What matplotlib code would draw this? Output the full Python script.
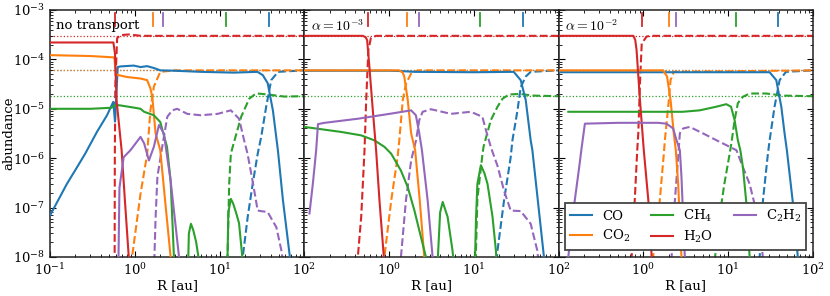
import matplotlib
matplotlib.use("Agg")
import matplotlib.pyplot as plt
from matplotlib.ticker import LogLocator, NullFormatter

plt.rcParams['font.family'] = ['DejaVu Serif']
plt.rcParams['mathtext.fontset'] = 'dejavuserif'
plt.rcParams['font.size'] = 9.5

species = ['CO', 'CO2', 'CH4', 'H2O', 'C2H2']
labels = ['CO', 'CO$_2$', 'CH$_4$', 'H$_2$O', 'C$_2$H$_2$']
colors = ['C0', 'C1', 'C2', 'C3', 'C4']
panel_titles = ['no transport', r'$\alpha=10^{-3}$', r'$\alpha=10^{-2}$']

# total (initial) abundances, dotted lines
totals = {'CO': 6e-5, 'CO2': 6e-5, 'CH4': 1.8e-5, 'H2O': 3e-4}

# snowline markers at the top [au]
nt_snow = [38, 1.65, 12.0, 0.59, 2.17]
a3_snow = [38, 1.63, 11.9, 0.56, 2.24]
a2_snow = [39, 2.01, 12.2, 0.95, 2.45]

# ---- no transport: (R [au], abundance) ----
nt_co_gas = ([0.1, 0.158, 0.209, 0.26, 0.358, 0.471, 0.558, 0.585, 0.63, 0.675, 0.97, 1.17, 1.4, 1.68, 2.0, 2.9, 6.0, 14.8, 28, 32.4, 37, 42.6, 48.8, 56, 67.6, 72],
             [6.9e-8, 3.0e-7, 6.6e-7, 1.23e-6, 3.4e-6, 7.4e-6, 1.38e-5, 5.5e-6, 7e-5, 7.2e-5, 7.5e-5, 7.0e-5, 7.3e-5, 6.7e-5, 6.0e-5, 5.9e-5, 5.6e-5, 5.4e-5, 5.6e-5, 4.8e-5, 3.3e-5, 9.3e-6, 1.45e-6, 1.4e-7, 1e-8, 4e-9])
nt_co_ice = ([18.0, 18.8, 21.5, 24.6, 28.2, 31, 35.5, 40.7, 49, 100],
             [4e-9, 1e-8, 6.5e-8, 3e-7, 1.23e-6, 2.7e-6, 1.1e-5, 3.8e-5, 5.6e-5, 6e-5])
nt_co2_gas = ([0.1, 0.3, 0.56, 0.575, 0.6, 0.645, 0.81, 1.17, 1.4, 1.53, 1.61, 1.76, 2.0, 2.28, 2.65, 2.8],
              [1.22e-4, 1.17e-4, 1.1e-4, 1.08e-4, 5e-5, 4.8e-5, 4.4e-5, 4.1e-5, 3.8e-5, 2.6e-5, 1.75e-5, 3.2e-6, 1.45e-6, 1.4e-7, 1e-8, 4e-9])
nt_co2_ice = ([0.88, 0.93, 1.17, 1.4, 1.53, 1.68, 2.0, 3.0, 100],
              [4e-9, 1e-8, 1.9e-7, 1.2e-6, 9.3e-6, 2.8e-5, 5.6e-5, 6e-5, 6e-5])
nt_ch4_gas = ([0.1, 0.3, 0.53, 0.6, 0.675, 1.0, 1.17, 1.29, 1.68, 2.0, 2.4, 2.65, 2.9, 3.0],
              [1.0e-5, 1.0e-5, 1.05e-5, 1.2e-5, 1.17e-5, 1.05e-5, 1.0e-5, 8.7e-6, 7.4e-6, 5.4e-6, 1.7e-6, 3.5e-7, 1e-8, 4e-9])
nt_ch4_bump1 = ([4.27, 4.35, 4.6, 4.9, 5.3, 5.75],
                [8e-9, 3e-8, 4.7e-8, 3.5e-8, 2e-8, 8e-9])
nt_ch4_bump2 = ([12.4, 12.7, 13.6, 14.5, 16, 17, 18.8],
                [8e-9, 8e-8, 1.5e-7, 1.2e-7, 7e-8, 4.8e-8, 8e-9])
nt_ch4_ice = ([12.4, 13.0, 13.6, 14.3, 18, 22.4, 27, 37, 58, 100],
              [8e-9, 3e-7, 1.23e-6, 1.7e-6, 6.9e-6, 1.6e-5, 2.05e-5, 1.95e-5, 1.77e-5, 1.8e-5])
nt_h2o_gas = ([0.1, 0.56, 0.585, 0.61, 0.70, 0.77, 0.85, 0.9],
              [2.2e-4, 2.2e-4, 1.3e-4, 1.5e-5, 1.45e-6, 1.2e-7, 1e-8, 2e-9])
nt_h2o_ice = ([0.578, 0.582, 0.59, 0.62, 0.68, 0.85, 1.2, 100],
              [1e-9, 1e-6, 3e-5, 2.7e-4, 3.1e-4, 3.2e-4, 3e-4, 3e-4])
nt_c2h2_gas = ([0.64, 0.66, 0.74, 0.89, 1.17, 1.29, 1.47, 1.68, 1.93, 2.2, 2.65, 3.33, 3.45],
               [5e-9, 2.5e-7, 1.05e-6, 1.45e-6, 2.7e-6, 2e-6, 9e-7, 1.7e-6, 4.7e-6, 3.2e-6, 3.5e-7, 1e-8, 4e-9])
nt_c2h2_ice = ([1.70, 1.76, 1.85, 2.11, 2.42, 2.77, 3.16, 4.17, 6.0, 9.5, 13.6, 17, 19.5, 21.4, 24.5, 28.2, 37, 46.8, 53.7, 57.5],
               [8e-9, 6e-8, 4.2e-7, 1.7e-6, 6.9e-6, 9.3e-6, 1.0e-5, 7.9e-6, 7.4e-6, 7.9e-6, 9.3e-6, 6.3e-6, 2.3e-6, 1.23e-6, 3.5e-7, 8.7e-8, 8.1e-8, 4e-8, 1.35e-8, 6e-9])

# ---- alpha = 1e-3 ----
a3_co_gas = ([0.1, 1.0, 1.38, 2.0, 10, 29.5, 35.7, 40.9, 46.8, 49, 67.1, 72],
             [5.9e-5, 5.9e-5, 5.8e-5, 5.6e-5, 5.5e-5, 5.6e-5, 3.8e-5, 1.5e-5, 2.3e-6, 1.45e-6, 1e-8, 4e-9])
a3_co_ice = ([18.5, 19, 22.7, 27.2, 28.5, 32.7, 35.7, 40.9, 46.8, 100],
             [8e-9, 1.35e-8, 1.4e-7, 1.05e-6, 2.3e-6, 9.3e-6, 2.75e-5, 4.5e-5, 5.6e-5, 6e-5])
a3_co2_gas = ([0.1, 1.32, 1.45, 1.51, 1.66, 1.82, 2.03, 2.3, 2.6, 2.7],
              [6e-5, 6e-5, 5.4e-5, 4.5e-5, 1.5e-5, 3.2e-6, 1.45e-6, 1.4e-7, 1e-8, 4e-9])
a3_co2_ice = ([0.85, 0.88, 1.06, 1.26, 1.32, 1.45, 1.58, 1.82, 2.18, 100],
              [4e-9, 1e-8, 1.4e-7, 1.05e-6, 2.3e-6, 1.5e-5, 3.2e-5, 5.2e-5, 6e-5, 6e-5])
a3_ch4_gas = ([0.1, 0.272, 0.468, 0.67, 0.88, 1.06, 1.38, 1.66, 1.99, 2.38, 2.72, 2.85],
              [4.3e-6, 3.4e-6, 2.9e-6, 2.3e-6, 1.7e-6, 1.23e-6, 5.6e-7, 2.6e-7, 8.7e-8, 2.5e-8, 1e-8, 5e-9])
a3_ch4_bump1 = ([3.74, 4.0, 4.29, 4.9, 5.6, 5.77],
                [8e-9, 8e-8, 1.3e-7, 6.5e-8, 1.35e-8, 8e-9])
a3_ch4_bump2 = ([10.3, 10.6, 11.0, 12.1, 13.3, 14.5, 16.6, 18.2, 18.6],
                [8e-9, 6e-8, 3e-7, 7.2e-7, 5e-7, 3e-7, 6.5e-8, 1.35e-8, 7e-9])
a3_ch4_ice = ([10.5, 11.0, 12.65, 13.0, 15.85, 19.0, 21.8, 26.0, 35, 50, 100],
              [8e-9, 1.5e-7, 1.23e-6, 1.7e-6, 5.9e-6, 1.1e-5, 1.6e-5, 1.95e-5, 2.0e-5, 1.85e-5, 1.8e-5])
a3_h2o_gas = ([0.1, 0.49, 0.53, 0.551, 0.586, 0.643, 0.703, 0.77, 0.867, 0.9],
              [3e-4, 3e-4, 2.8e-4, 2.45e-4, 7e-5, 9.3e-6, 1.45e-6, 1.4e-7, 1e-8, 4e-9])
a3_h2o_ice = ([0.42, 0.428, 0.469, 0.513, 0.537, 0.57, 0.61, 0.7, 100],
              [4e-9, 1e-8, 6.5e-8, 1.45e-6, 1.5e-5, 1.55e-4, 2.7e-4, 3e-4, 3e-4])
a3_c2h2_gas = ([0.115, 0.126, 0.138, 0.145, 0.173, 0.43, 1.06, 1.82, 2.07, 2.27, 2.44, 2.85, 3.26, 3.4],
               [7.6e-8, 3e-7, 1.45e-6, 4.9e-6, 5.2e-6, 6.3e-6, 8e-6, 9.3e-6, 7.4e-6, 3.2e-6, 1.45e-6, 1.4e-7, 1e-8, 4e-9])
a3_c2h2_ice = ([1.38, 1.58, 1.82, 2.08, 2.27, 2.49, 3.12, 5.36, 9.2, 12.6, 14.0, 16.0, 19.0, 22.7, 27.2, 35.7, 46.8, 56, 59],
               [1e-8, 1.4e-7, 9e-7, 2.3e-6, 5.9e-6, 8.7e-6, 9.8e-6, 7.9e-6, 8.7e-6, 6.9e-6, 3.5e-6, 1.6e-6, 7e-7, 2.2e-7, 8.7e-8, 8.5e-8, 4.7e-8, 1.35e-8, 6e-9])

# ---- alpha = 1e-2 ----
a2_co_gas = ([0.1, 30.8, 36.9, 42.3, 46.2, 49.2, 60.5, 66.2, 70],
             [5.5e-5, 5.5e-5, 3.8e-5, 1.1e-5, 3.2e-6, 1.45e-6, 6.5e-8, 1e-8, 4e-9])
a2_co_ice = ([23.0, 23.5, 25.7, 29.4, 30.8, 35.2, 40.4, 48, 100],
             [5e-9, 1e-8, 1.4e-7, 1.23e-6, 2.3e-6, 1.1e-5, 3.8e-5, 5.6e-5, 6e-5])
a2_co2_gas = ([0.1, 1.71, 1.9, 2.09, 2.28, 2.41, 2.57, 2.81, 2.9],
              [6e-5, 6e-5, 4.5e-5, 1.5e-5, 3.2e-6, 1.45e-6, 3e-7, 1e-8, 4e-9])
a2_co2_ice = ([1.28, 1.3, 1.56, 1.74, 1.79, 1.96, 2.09, 2.28, 100],
              [5e-9, 1e-8, 1.4e-7, 1.23e-6, 2.3e-6, 1.1e-5, 3.8e-5, 5.6e-5, 6e-5])
a2_ch4_gas = ([0.13, 2.9, 4.6, 7.2, 9.5, 10.8, 11.9, 13.0, 13.9, 14.9, 16.4, 17.9, 18.5],
              [8.7e-6, 8.7e-6, 9.3e-6, 1.1e-5, 1.24e-5, 1.1e-5, 5.9e-6, 2.3e-6, 1.45e-6, 6.6e-7, 1.2e-7, 1e-8, 4e-9])
a2_ch4_ice = ([6.8, 7.0, 7.9, 9.0, 10.4, 10.9, 11.9, 13.0, 14.9, 17.9, 28, 45, 100],
              [5e-9, 1e-8, 6.5e-8, 3e-7, 1.23e-6, 2e-6, 5.9e-6, 1.3e-5, 1.75e-5, 2.04e-5, 2.04e-5, 1.85e-5, 1.8e-5])
a2_h2o_gas = ([0.1, 0.76, 0.8, 0.83, 0.91, 1.01, 1.19, 1.25, 1.3],
              [3e-4, 3e-4, 2.5e-4, 1.55e-4, 1.5e-5, 1.45e-6, 6.5e-8, 1e-8, 4e-9])
a2_h2o_ice = ([0.71, 0.726, 0.79, 0.845, 0.87, 0.91, 0.955, 1.09, 1.2, 100],
              [5e-9, 1e-8, 1.4e-7, 1.45e-6, 3.2e-6, 3.2e-5, 2.1e-4, 2.9e-4, 3e-4, 3e-4])
a2_c2h2_gas = ([0.127, 0.13, 0.146, 0.177, 0.185, 0.204, 0.5, 1.5, 1.87, 2.24, 2.46, 2.69, 2.81, 2.94, 3.08, 3.15],
               [5e-9, 1e-8, 6.5e-8, 7.8e-7, 1.45e-6, 5e-6, 5.2e-6, 5.2e-6, 5e-6, 4e-6, 2.3e-6, 1.45e-6, 4.2e-7, 6.5e-8, 1e-8, 4e-9])
a2_c2h2_ice = ([2.1, 2.15, 2.35, 2.57, 2.69, 2.94, 3.52, 5.0, 7.3, 10.4, 12.5, 14.9, 17.9, 20.4, 23.4, 26],
               [5e-9, 1e-8, 1.4e-7, 1.05e-6, 3.2e-6, 4e-6, 4.3e-6, 3.2e-6, 2.3e-6, 1.7e-6, 1.45e-6, 6.6e-7, 3e-7, 1.2e-7, 4e-8, 8e-9])

panels = [
    {'gas': [nt_co_gas, nt_co2_gas, nt_ch4_gas, nt_h2o_gas, nt_c2h2_gas],
     'ice': [nt_co_ice, nt_co2_ice, nt_ch4_ice, nt_h2o_ice, nt_c2h2_ice],
     'extra': [nt_ch4_bump1, nt_ch4_bump2], 'snow': nt_snow},
    {'gas': [a3_co_gas, a3_co2_gas, a3_ch4_gas, a3_h2o_gas, a3_c2h2_gas],
     'ice': [a3_co_ice, a3_co2_ice, a3_ch4_ice, a3_h2o_ice, a3_c2h2_ice],
     'extra': [a3_ch4_bump1, a3_ch4_bump2], 'snow': a3_snow},
    {'gas': [a2_co_gas, a2_co2_gas, a2_ch4_gas, a2_h2o_gas, a2_c2h2_gas],
     'ice': [a2_co_ice, a2_co2_ice, a2_ch4_ice, a2_h2o_ice, a2_c2h2_ice],
     'extra': [], 'snow': a2_snow},
]

fig, axes = plt.subplots(1, 3, figsize=(8.3, 2.96), dpi=100, sharey=True)
fig.subplots_adjust(left=0.0602, right=0.9795, top=0.9662, bottom=0.1318, wspace=0)

for k, (ax, p) in enumerate(zip(axes, panels)):
    for i, sp in enumerate(species):
        if sp in totals:
            ax.axhline(totals[sp], color=colors[i], ls=':', lw=0.9, zorder=1)
    for i, sp in enumerate(species):
        r, a = p['gas'][i]
        ax.plot(r, a, color=colors[i], lw=1.5, label=labels[i], zorder=3)
        r, a = p['ice'][i]
        ax.plot(r, a, color=colors[i], lw=1.5, ls='--', zorder=2)
    for r, a in p['extra']:
        ax.plot(r, a, color='C2', lw=1.5, zorder=3)
    for i, rs in enumerate(p['snow']):
        ax.plot([rs, rs], [0.935, 0.988], color=colors[i], lw=1.3,
                transform=ax.get_xaxis_transform(), clip_on=False)

    ax.set_xscale('log')
    ax.set_yscale('log')
    ax.set_xlim(0.1, 100)
    ax.set_ylim(1e-8, 1e-3)
    if k == 0:
        ax.set_xticks([0.1, 1, 10, 100], ['$10^{-1}$', '$10^{0}$', '$10^{1}$', '$10^{2}$'])
    else:
        ax.set_xticks([0.1, 1, 10, 100], ['', '$10^{0}$', '$10^{1}$', '$10^{2}$'])
    ax.xaxis.set_minor_locator(LogLocator(base=10, subs=range(2, 10)))
    ax.xaxis.set_minor_formatter(NullFormatter())
    ax.set_yticks([1e-8, 1e-7, 1e-6, 1e-5, 1e-4, 1e-3])
    ax.yaxis.set_minor_locator(LogLocator(base=10, subs=range(2, 10), numticks=20))
    ax.yaxis.set_minor_formatter(NullFormatter())
    ax.tick_params(which='both', direction='in', top=True, right=True, labelsize=9.5)
    ax.tick_params(which='major', length=4, width=0.8)
    ax.tick_params(which='minor', length=2, width=0.6)
    for s in ax.spines.values():
        s.set_linewidth(1.1)
        s.set_color('#222222')
    ax.set_xlabel('R [au]', labelpad=1)
    if k == 0:
        ax.text(0.025, 0.965, panel_titles[k], transform=ax.transAxes, va='top', ha='left')
    else:
        ax.text(0.025, 0.965, panel_titles[k], transform=ax.transAxes, va='top', ha='left',
                math_fontfamily='cm', fontsize=10)

axes[0].set_ylabel('abundance')
axes[0].yaxis.set_label_coords(-0.137, 0.5)
for ax in axes[1:]:
    ax.tick_params(labelleft=False)

leg = axes[2].legend(ncol=3, loc='lower center', bbox_to_anchor=(0.5, 0.028), borderaxespad=0,
                     fancybox=False, framealpha=1, edgecolor='#444444', handlelength=1.65,
                     handletextpad=0.75, columnspacing=1.6, labelspacing=0.35, fontsize=9.5)
leg.get_frame().set_linewidth(1.3)
leg.set_zorder(5)

fig.savefig('out.png', dpi=100)
